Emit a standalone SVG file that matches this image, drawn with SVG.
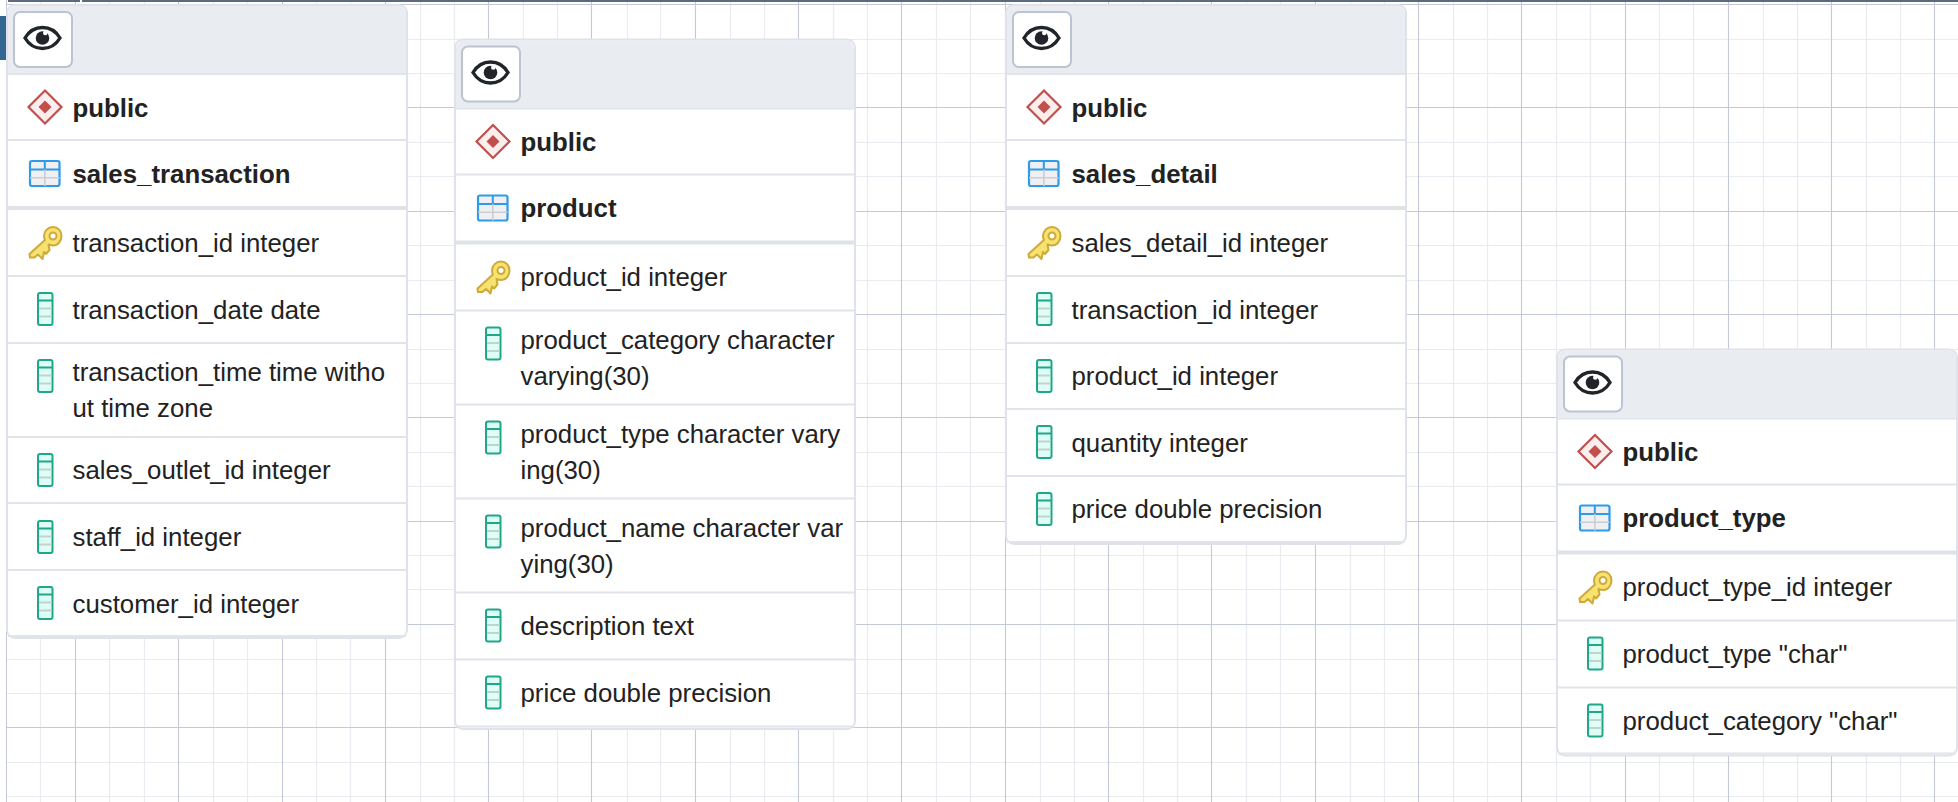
<svg xmlns="http://www.w3.org/2000/svg" xmlns:xlink="http://www.w3.org/1999/xlink" width="1958" height="802" viewBox="0 0 1958 802">
<style>
.minor{fill:none;stroke:#e9ebf1;stroke-width:1.2}
.major{fill:none;stroke:#c4c8d7;stroke-width:1.1}
.card{fill:#fff;stroke:#dfe2ea;stroke-width:2}
.head{fill:#e9ecf1}
.sep{fill:#e1e4eb}
.sep2{fill:#dfe2e7}
.t{font-family:"Liberation Sans",Arial,sans-serif;font-size:25.8px;fill:#222}
.b{font-weight:700}
.btn{fill:#fff;stroke:#bcc3d2;stroke-width:2}
</style>
<defs>
<g id="eye">
<path d="M-17.500 0C-13 -7.500 -7 -10.500 0 -10.500C7 -10.500 13 -7.500 17.500 0C13 7.500 7 10.500 0 10.500C-7 10.500 -13 7.500 -17.500 0Z" fill="#fff" stroke="#212529" stroke-width="3.400"/>
<circle cx="0" cy="0" r="6.800" fill="#212529"/>
<circle cx="2.800" cy="-5" r="2.300" fill="#fff"/>
</g>
<g id="schema">
<path d="M0 -16.500L16.500 0L0 16.500L-16.500 0Z" fill="#fdeeee" stroke="#c0504f" stroke-width="2.200"/>
<path d="M0 -6.500L6.500 0L0 6.500L-6.500 0Z" fill="#c24e4e"/>
</g>
<g id="tbl">
<rect x="0" y="0" width="29.500" height="25" rx="2" fill="#f0f0f2" stroke="#2f9be8" stroke-width="2.200"/>
<path d="M0 8.500H29.500" stroke="#2f9be8" stroke-width="2"/>
<path d="M14.800 0V8.500" stroke="#2f9be8" stroke-width="2"/>
<path d="M14.800 8.500V25M0 16.800H29.500" stroke="#c9ced6" stroke-width="1.600"/>
</g>
<g id="key">
<path fill-rule="evenodd" d="M24 0C19 0 15 4 15 9C15 10.500 15.300 11.800 15.900 13L0.500 27L1 30.500L5.500 30.500L9 27.500L13.500 32L15 25L17 27L20.500 23L19.500 17.500C21 18 22.500 18.500 24 18.500C29 18.500 32.500 14 32.500 9C32.500 4 29 0 24 0ZM24 5.500A3.500 3.500 0 1 1 24 12.500A3.500 3.500 0 1 1 24 5.500Z" fill="#f6e26e" stroke="#cfa93a" stroke-width="2" stroke-linejoin="round"/>
</g>
<g id="col">
<rect x="0" y="0" width="14.500" height="32" rx="2" fill="#defdf5" stroke="#20a78a" stroke-width="2"/>
<path d="M0 7.500H14.500" stroke="#20a78a" stroke-width="2"/>
<path d="M1 15.500H13.500M1 23.500H13.500" stroke="#c3d2cd" stroke-width="2"/>
</g>
</defs>
<rect width="1958" height="802" fill="#fff"/>
<g transform="translate(0.500 0.500)">
<path class="minor" d="M40 0V802M109 0V802M144 0V802M213 0V802M247 0V802M316 0V802M350 0V802M420 0V802M454 0V802M523 0V802M557 0V802M627 0V802M660 0V802M730 0V802M764 0V802M833 0V802M867 0V802M936 0V802M970 0V802M1040 0V802M1074 0V802M1143 0V802M1177 0V802M1246 0V802M1280 0V802M1350 0V802M1384 0V802M1453 0V802M1487 0V802M1556 0V802M1590 0V802M1659 0V802M1693 0V802M1763 0V802M1797 0V802M1866 0V802M1900 0V802M0 39H1958M0 73H1958M0 142H1958M0 176H1958M0 245H1958M0 280H1958M0 349H1958M0 383H1958M0 452H1958M0 486H1958M0 555H1958M0 589H1958M0 659H1958M0 693H1958M0 762H1958M0 796H1958"/>
<path class="major" d="M75 0V802M178 0V802M282 0V802M385 0V802M488 0V802M591 0V802M695 0V802M798 0V802M901 0V802M1005 0V802M1108 0V802M1211 0V802M1315 0V802M1418 0V802M1521 0V802M1625 0V802M1728 0V802M1831 0V802M1934 0V802M0 4H1958M0 107H1958M0 211H1958M0 314H1958M0 417H1958M0 521H1958M0 624H1958M0 727H1958"/>
</g>
<rect x="0" y="0" width="6" height="802" fill="#fff"/>
<rect x="6" y="0" width="1" height="802" fill="#c4c8d7"/>
<rect x="0" y="16" width="6" height="44" fill="#336791"/>
<path d="M8 0H80V2H8ZM82 0H1958V2H82Z" fill="#5d6b7b"/>
<g id="connectors"/>

<g id="table-sales_transaction">
<rect class="card" x="7" y="5" width="400" height="633" rx="8"/>
<path class="head" d="M8 14a8 8 0 0 1 8 -8H398a8 8 0 0 1 8 8V73H8Z"/>
<rect class="sep" x="8" y="73" width="398" height="2"/>
<rect class="sep" x="8" y="139" width="398" height="2"/>
<rect class="sep2" x="8" y="206" width="398" height="4"/>
<rect class="sep" x="8" y="275" width="398" height="2"/>
<rect class="sep" x="8" y="342" width="398" height="2"/>
<rect class="sep" x="8" y="436" width="398" height="2"/>
<rect class="sep" x="8" y="502" width="398" height="2"/>
<rect class="sep" x="8" y="569" width="398" height="2"/>
<rect class="sep" x="8" y="635" width="398" height="2"/>
<rect class="btn" x="14" y="12" width="58" height="55" rx="6"/>
<use xlink:href="#eye" href="#eye" x="42.500" y="38"/>
<use xlink:href="#schema" href="#schema" x="45" y="107"/>
<use xlink:href="#tbl" href="#tbl" x="30" y="161"/>
<use xlink:href="#key" href="#key" x="29" y="227"/>
<use xlink:href="#col" href="#col" x="38" y="293"/>
<use xlink:href="#col" href="#col" x="38" y="360"/>
<use xlink:href="#col" href="#col" x="38" y="454"/>
<use xlink:href="#col" href="#col" x="38" y="521"/>
<use xlink:href="#col" href="#col" x="38" y="587"/>
<text class="t b" x="72.500" y="116.500">public</text>
<text class="t b" x="72.500" y="182.500">sales_transaction</text>
<text class="t" x="72.500" y="251.500">transaction_id integer</text>
<text class="t" x="72.500" y="318.500">transaction_date date</text>
<text class="t" x="72.500" y="381">transaction_time time witho</text>
<text class="t" x="72.500" y="417">ut time zone</text>
<text class="t" x="72.500" y="479">sales_outlet_id integer</text>
<text class="t" x="72.500" y="546">staff_id integer</text>
<text class="t" x="72.500" y="612.500">customer_id integer</text>
</g>

<g id="table-product" transform="translate(448 34.500)">
<rect class="card" x="7" y="5" width="400" height="689.500" rx="8"/>
<path class="head" d="M8 14a8 8 0 0 1 8 -8H398a8 8 0 0 1 8 8V73H8Z"/>
<rect class="sep" x="8" y="73" width="398" height="2"/>
<rect class="sep" x="8" y="139" width="398" height="2"/>
<rect class="sep2" x="8" y="206" width="398" height="4"/>
<rect class="sep" x="8" y="275" width="398" height="2"/>
<rect class="sep" x="8" y="369" width="398" height="2"/>
<rect class="sep" x="8" y="463" width="398" height="2"/>
<rect class="sep" x="8" y="557" width="398" height="2"/>
<rect class="sep" x="8" y="624" width="398" height="2"/>
<rect class="sep" x="8" y="691" width="398" height="2"/>
<rect class="btn" x="14" y="12" width="58" height="55" rx="6"/>
<use xlink:href="#eye" href="#eye" x="42.500" y="38"/>
<use xlink:href="#schema" href="#schema" x="45" y="107"/>
<use xlink:href="#tbl" href="#tbl" x="30" y="161"/>
<use xlink:href="#key" href="#key" x="29" y="227"/>
<use xlink:href="#col" href="#col" x="38" y="293"/>
<use xlink:href="#col" href="#col" x="38" y="387"/>
<use xlink:href="#col" href="#col" x="38" y="481"/>
<use xlink:href="#col" href="#col" x="38" y="575"/>
<use xlink:href="#col" href="#col" x="38" y="642"/>
<text class="t b" x="72.500" y="116.500">public</text>
<text class="t b" x="72.500" y="182.500">product</text>
<text class="t" x="72.500" y="251.500">product_id integer</text>
<text class="t" x="72.500" y="314">product_category character</text>
<text class="t" x="72.500" y="350">varying(30)</text>
<text class="t" x="72.500" y="408">product_type character vary</text>
<text class="t" x="72.500" y="444">ing(30)</text>
<text class="t" x="72.500" y="502">product_name character var</text>
<text class="t" x="72.500" y="538">ying(30)</text>
<text class="t" x="72.500" y="600.500">description text</text>
<text class="t" x="72.500" y="667">price double precision</text>
</g>

<g id="table-sales_detail" transform="translate(999 0)">
<rect class="card" x="7" y="5" width="400" height="539" rx="8"/>
<path class="head" d="M8 14a8 8 0 0 1 8 -8H398a8 8 0 0 1 8 8V73H8Z"/>
<rect class="sep" x="8" y="73" width="398" height="2"/>
<rect class="sep" x="8" y="139" width="398" height="2"/>
<rect class="sep2" x="8" y="206" width="398" height="4"/>
<rect class="sep" x="8" y="275" width="398" height="2"/>
<rect class="sep" x="8" y="342" width="398" height="2"/>
<rect class="sep" x="8" y="408" width="398" height="2"/>
<rect class="sep" x="8" y="475" width="398" height="2"/>
<rect class="sep" x="8" y="541" width="398" height="2"/>
<rect class="btn" x="14" y="12" width="58" height="55" rx="6"/>
<use xlink:href="#eye" href="#eye" x="42.500" y="38"/>
<use xlink:href="#schema" href="#schema" x="45" y="107"/>
<use xlink:href="#tbl" href="#tbl" x="30" y="161"/>
<use xlink:href="#key" href="#key" x="29" y="227"/>
<use xlink:href="#col" href="#col" x="38" y="293"/>
<use xlink:href="#col" href="#col" x="38" y="360"/>
<use xlink:href="#col" href="#col" x="38" y="426"/>
<use xlink:href="#col" href="#col" x="38" y="493"/>
<text class="t b" x="72.500" y="116.500">public</text>
<text class="t b" x="72.500" y="182.500">sales_detail</text>
<text class="t" x="72.500" y="251.500">sales_detail_id integer</text>
<text class="t" x="72.500" y="318.500">transaction_id integer</text>
<text class="t" x="72.500" y="385">product_id integer</text>
<text class="t" x="72.500" y="451.500">quantity integer</text>
<text class="t" x="72.500" y="518">price double precision</text>
</g>

<g id="table-product_type" transform="translate(1550 344.500)">
<rect class="card" x="7" y="5" width="400" height="406" rx="8"/>
<path class="head" d="M8 14a8 8 0 0 1 8 -8H398a8 8 0 0 1 8 8V73H8Z"/>
<rect class="sep" x="8" y="73" width="398" height="2"/>
<rect class="sep" x="8" y="139" width="398" height="2"/>
<rect class="sep2" x="8" y="206" width="398" height="4"/>
<rect class="sep" x="8" y="275" width="398" height="2"/>
<rect class="sep" x="8" y="342" width="398" height="2"/>
<rect class="sep" x="8" y="408" width="398" height="2"/>
<rect class="btn" x="14" y="12" width="58" height="55" rx="6"/>
<use xlink:href="#eye" href="#eye" x="42.500" y="38"/>
<use xlink:href="#schema" href="#schema" x="45" y="107"/>
<use xlink:href="#tbl" href="#tbl" x="30" y="161"/>
<use xlink:href="#key" href="#key" x="29" y="227"/>
<use xlink:href="#col" href="#col" x="38" y="293"/>
<use xlink:href="#col" href="#col" x="38" y="360"/>
<text class="t b" x="72.500" y="116.500">public</text>
<text class="t b" x="72.500" y="182.500">product_type</text>
<text class="t" x="72.500" y="251.500">product_type_id integer</text>
<text class="t" x="72.500" y="318.500">product_type "char"</text>
<text class="t" x="72.500" y="385">product_category "char"</text>
</g>
</svg>
